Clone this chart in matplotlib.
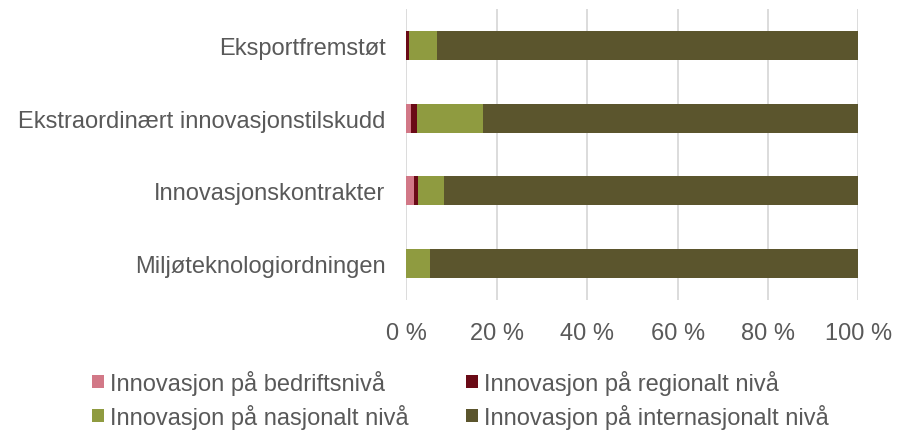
import matplotlib
matplotlib.use("Agg")
import matplotlib.pyplot as plt
import numpy as np

plt.rcParams['font.family'] = ['Liberation Sans', 'DejaVu Sans']

categories = ["Eksportfremstøt", "Ekstraordinært innovasjonstilskudd",
              "Innovasjonskontrakter", "Miljøteknologiordningen"]
series_names = ["Innovasjon på bedriftsnivå", "Innovasjon på regionalt nivå",
                "Innovasjon på nasjonalt nivå", "Innovasjon på internasjonalt nivå"]
bedrift = [0.0, 1.1, 1.7, 0.0]
regional = [0.5, 1.2, 0.9, 0.0]
nasjonal = [6.2, 14.6, 5.8, 5.3]
internasjonal = [93.3, 83.1, 91.6, 94.7]
colors = ["#D27887", "#6A0A16", "#8F9B40", "#5B552D"]
xticks = [0, 20, 40, 60, 80, 100]
xticklabels = ["0 %", "20 %", "40 %", "60 %", "80 %", "100 %"]

FS = 17
TXT = "#595959"

fig = plt.figure(figsize=(9.01, 4.39), dpi=100)
ax = fig.add_axes([406.4 / 901, 1 - 301 / 439, 452 / 901, 291 / 439])

y = np.arange(len(categories))[::-1]
left = np.zeros(len(categories))
handles = []
for vals, name, c in zip([bedrift, regional, nasjonal, internasjonal], series_names, colors):
    h = ax.barh(y, vals, left=left, height=0.4, color=c, label=name, zorder=3)
    handles.append(h)
    left += np.array(vals)

ax.set_xlim(0, 100)
ax.set_ylim(-0.5, 3.5)
ax.set_yticks(y)
ax.set_yticklabels(categories, fontsize=FS, color=TXT)
ax.set_xticks(xticks)
ax.set_xticklabels(xticklabels, fontsize=FS, color=TXT)
ax.tick_params(axis='both', length=0)
ax.tick_params(axis='y', pad=15)
ax.tick_params(axis='x', pad=16)
ax.grid(axis='x', color="#D9D9D9", linewidth=1.3, zorder=0)
for s in ax.spines.values():
    s.set_visible(False)

order = [0, 2, 1, 3]
fig.legend(handles=[handles[i] for i in order],
           labels=[series_names[i] for i in order], loc='upper left',
           bbox_to_anchor=(92 / 901, 1 - 371 / 439), ncol=2, frameon=False,
           fontsize=FS, labelcolor=TXT, handlelength=0.5,
           handleheight=0.5, handletextpad=0.25, columnspacing=2.45,
           labelspacing=0.38, borderaxespad=0, borderpad=0)

fig.savefig("out.png", dpi=100)
